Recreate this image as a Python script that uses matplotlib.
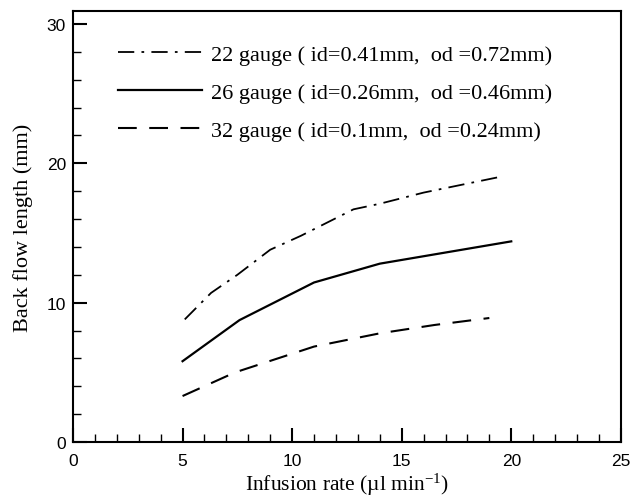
import matplotlib
matplotlib.use('Agg')
import matplotlib.pyplot as plt
from matplotlib.ticker import MultipleLocator

plt.rcParams['mathtext.fontset'] = 'custom'
plt.rcParams['mathtext.rm'] = 'Liberation Serif'
plt.rcParams['mathtext.it'] = 'Liberation Serif:italic'

# data
x22 = [5.1, 6.3, 7.5, 9.0, 10.4, 12.8, 14.0, 16.0, 19.4]
y22 = [8.8, 10.7, 12.0, 13.8, 14.8, 16.7, 17.1, 17.9, 19.0]
x26 = [5.0, 7.6, 11.0, 14.0, 20.0]
y26 = [5.8, 8.75, 11.45, 12.8, 14.4]
x32 = [5.0, 7.4, 11.0, 14.0, 16.5, 19.0]
y32 = [3.3, 5.0, 6.85, 7.8, 8.4, 8.9]

labels = ['22 gauge ( id=0.41mm,  od =0.72mm)',
          '26 gauge ( id=0.26mm,  od =0.46mm)',
          '32 gauge ( id=0.1mm,  od =0.24mm)']

fig = plt.figure(figsize=(6.42, 5.02), dpi=100)
ax = fig.add_axes([0.1137, 0.1175, 0.967 - 0.1137, 0.976 - 0.1175])

ax.plot(x22, y22, color='black', lw=1.3, dashes=(9, 4, 1.5, 4), label=labels[0])
ax.plot(x26, y26, color='black', lw=1.6, label=labels[1])
ax.plot(x32, y32, color='black', lw=1.5, dashes=(9, 6), label=labels[2])

ax.set_xlim(0, 25)
ax.set_ylim(0, 30.93)
ax.xaxis.set_major_locator(MultipleLocator(5))
ax.xaxis.set_minor_locator(MultipleLocator(1))
ax.yaxis.set_major_locator(MultipleLocator(10))
ax.yaxis.set_minor_locator(MultipleLocator(2))
ax.tick_params(which='major', direction='in', length=10, width=1.5,
               labelsize=12.5, top=False, right=False)
ax.tick_params(axis='x', which='major', pad=8)
ax.tick_params(axis='y', which='major', pad=5)
ax.tick_params(which='minor', direction='in', length=6, width=1.0,
               top=False, right=False)
for lab in ax.get_xticklabels() + ax.get_yticklabels():
    lab.set_family('Liberation Sans')
for s in ax.spines.values():
    s.set_linewidth(1.5)

ax.set_xlabel('Infusion rate (\u00b5l min$^{-1}$)', family='Liberation Serif',
              fontsize=15.5, labelpad=2)
ax.set_ylabel('Back flow length (mm)', family='Liberation Serif',
              fontsize=16, labelpad=10)

leg = ax.legend(loc='upper left', bbox_to_anchor=(0.045, 0.97), frameon=False,
                prop={'family': 'Liberation Serif', 'size': 16},
                handlelength=3.8, labelspacing=0.8, handletextpad=0.4)

fig.savefig('out.png', dpi=100)
